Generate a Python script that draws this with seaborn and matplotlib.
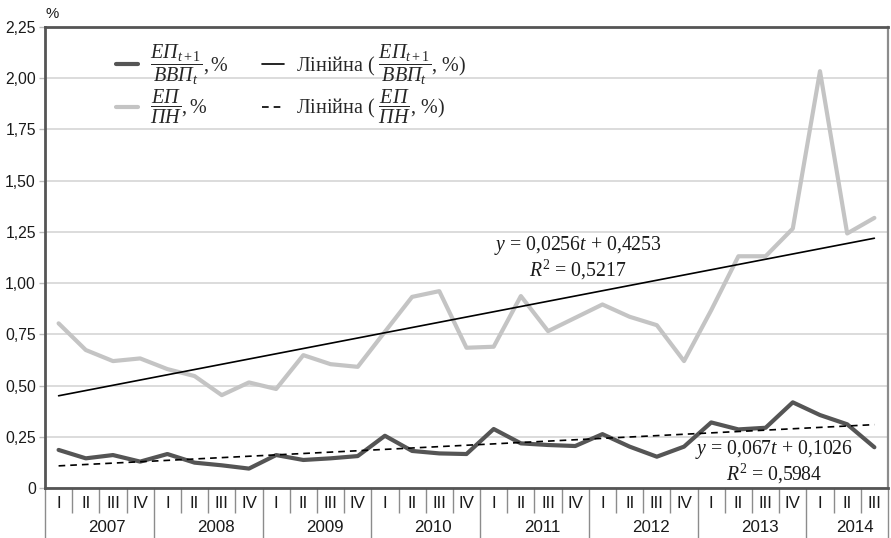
import numpy as np
import pandas as pd
import matplotlib
matplotlib.use("Agg")
import matplotlib.pyplot as plt
from matplotlib import font_manager as fm
import seaborn as sns
from matplotlib.lines import Line2D
from matplotlib.ticker import FixedLocator, FuncFormatter, NullFormatter

# ---- data -------------------------------------------------------------
years = ["2007", "2008", "2009", "2010", "2011", "2012", "2013", "2014"]
quarters = ["I", "II", "III", "IV"] * 7 + ["I", "II", "III"]

# ЕП(t+1) / ВВП(t), %
ep_gdp = [0.187, 0.146, 0.162, 0.130, 0.167, 0.125, 0.112, 0.096,
          0.162, 0.138, 0.146, 0.157, 0.256, 0.182, 0.170, 0.167,
          0.289, 0.219, 0.211, 0.206, 0.264, 0.203, 0.154, 0.203,
          0.321, 0.287, 0.295, 0.419, 0.357, 0.312, 0.200]

# ЕП / ПН, %
ep_pn = [0.804, 0.674, 0.620, 0.633, 0.581, 0.547, 0.454, 0.516,
         0.484, 0.649, 0.605, 0.592, 0.763, 0.933, 0.961, 0.685,
         0.690, 0.937, 0.766, 0.831, 0.896, 0.836, 0.795, 0.620,
         0.868, 1.131, 1.131, 1.266, 2.033, 1.242, 1.318]

# linear trends (slope, intercept), t = 1..N
trend_pn = (0.0256, 0.4253)
trend_gdp = (0.0067, 0.1026)

eq_pn = r"$y$ = 0,0256$t$ + 0,4253" + "\n" + r"$R^2$ = 0,5217"
eq_gdp = r"$y$ = 0,067$t$ + 0,1026" + "\n" + r"$R^2$ = 0,5984"

y_ticks = [0, 0.25, 0.5, 0.75, 1.0, 1.25, 1.5, 1.75, 2.0, 2.25]

lab_gdp = r"$\dfrac{ЕП_{t+1}}{ВВП_t}, \%$"
lab_pn = r"$\dfrac{ЕП}{ПН}, \%$"
lab_tr_gdp = r"Лінійна ( $\dfrac{ЕП_{t+1}}{ВВП_t}$, %)"
lab_tr_pn = r"Лінійна ( $\dfrac{ЕП}{ПН}$, %)"

# ---- style ------------------------------------------------------------
sns.set_style("white")
installed = {f.name for f in fm.fontManager.ttflist}
if "Liberation Sans Narrow" in installed:
    sans, tick_size, cat_size = "Liberation Sans Narrow", 12.5, 13.5
else:
    sans, tick_size, cat_size = "Liberation Sans", 11.3, 12.2
plt.rcParams["font.family"] = [sans, "DejaVu Sans"]
plt.rcParams["mathtext.fontset"] = "custom"
plt.rcParams["mathtext.rm"] = "Liberation Serif"
plt.rcParams["mathtext.it"] = "Liberation Serif:italic"
plt.rcParams["mathtext.bf"] = "Liberation Serif:bold"

DARK = "#555555"
LIGHT = "#c4c4c4"

fig = plt.figure(figsize=(8.91, 5.38), dpi=100)
ax = fig.add_axes([0.0505, 0.0924, 0.9461, 0.858])

n = len(ep_gdp)
t = np.arange(1, n + 1)
df = pd.DataFrame({
    "x": np.arange(n),
    "gdp": ep_gdp,
    "pn": ep_pn,
    "tr_pn": trend_pn[0] * t + trend_pn[1],
    "tr_gdp": trend_gdp[0] * t + trend_gdp[1],
})

sns.lineplot(data=df, x="x", y="pn", color=LIGHT, lw=3, ax=ax, zorder=3)
sns.lineplot(data=df, x="x", y="gdp", color=DARK, lw=3, ax=ax, zorder=3)
sns.lineplot(data=df, x="x", y="tr_pn", color="black", lw=1.2, ax=ax, zorder=4)
sns.lineplot(data=df, x="x", y="tr_gdp", color="black", lw=1.2, ax=ax, zorder=4,
             linestyle=(0, (4, 3)))

# ---- axes -------------------------------------------------------------
ax.set_xlim(-0.5, n - 0.5)
ax.set_ylim(0, 2.25)
ax.set_xlabel("")
ax.set_ylabel("")

ax.yaxis.set_major_locator(FixedLocator(y_ticks))
ax.yaxis.set_major_formatter(FuncFormatter(
    lambda v, p: "0" if v == 0 else f"{v:.2f}".replace(".", ",")))
ax.yaxis.grid(True, color="#d6d6d6", lw=1.2, zorder=0)
ax.tick_params(axis="y", which="major", length=4.5, width=1, color="#bdbdbd",
               labelsize=tick_size, labelcolor="#1a1a1a", pad=2, left=True)

year_bounds = [-0.5] + [4 * k + 3.5 for k in range(7)] + [n - 0.5]
quarter_bounds = [i + 0.5 for i in range(n - 1) if (i + 1) % 4 != 0]
ax.xaxis.set_major_locator(FixedLocator(year_bounds))
ax.xaxis.set_minor_locator(FixedLocator(quarter_bounds))
ax.xaxis.set_major_formatter(NullFormatter())
ax.xaxis.set_minor_formatter(NullFormatter())
ax.tick_params(axis="x", which="major", length=36, width=1, color="#8c8c8c",
               bottom=True)
ax.tick_params(axis="x", which="minor", length=18, width=1, color="#8c8c8c",
               bottom=True)

xt = ax.get_xaxis_transform()
for i, q in enumerate(quarters):
    ax.text(i, -0.033, q, transform=xt, ha="center", va="center",
            fontsize=cat_size, color="#1a1a1a")
for k, yr in enumerate(years):
    idx = [i for i in range(n) if i // 4 == k]
    ax.text(np.mean(idx) + 0.28, -0.085, yr, transform=xt, ha="center",
            va="center", fontsize=cat_size, color="#1a1a1a")

for side, col, lw in [("left", DARK, 2), ("bottom", DARK, 2),
                      ("top", DARK, 2), ("right", "#8c8c8c", 1.6)]:
    ax.spines[side].set_visible(True)
    ax.spines[side].set_color(col)
    ax.spines[side].set_linewidth(lw)

fig.text(52 / 891, 1 - 14 / 538, "%", ha="center", va="center",
         fontsize=tick_size - 0.5, color="#1a1a1a")

# ---- trend equations --------------------------------------------------
serif = {"family": "Liberation Serif", "size": 14.2, "color": "#1a1a1a"}
ax.text(19.1, 1.124, eq_pn, ha="center", va="center", fontdict=serif,
        linespacing=1.05, zorder=5)
ax.text(26.3, 0.129, eq_gdp, ha="center", va="center", fontdict=serif,
        linespacing=1.05, zorder=5)

# ---- legend -----------------------------------------------------------
handles = [
    Line2D([], [], color=DARK, lw=3),
    Line2D([], [], color=LIGHT, lw=3),
    Line2D([], [], color="black", lw=1.2),
    Line2D([], [], color="black", lw=1.2, linestyle=(0, (4, 3))),
]
labels = [lab_gdp, lab_pn, lab_tr_gdp, lab_tr_pn]
ax.legend(handles, labels, loc="upper left", bbox_to_anchor=(0.07, 0.992),
          ncol=2, frameon=False, prop={"family": "Liberation Serif", "size": 14.5},
          handlelength=1.1, handletextpad=0.6, columnspacing=1.6,
          labelspacing=0.05, borderaxespad=0.2)

fig.savefig("out.png", dpi=100)
